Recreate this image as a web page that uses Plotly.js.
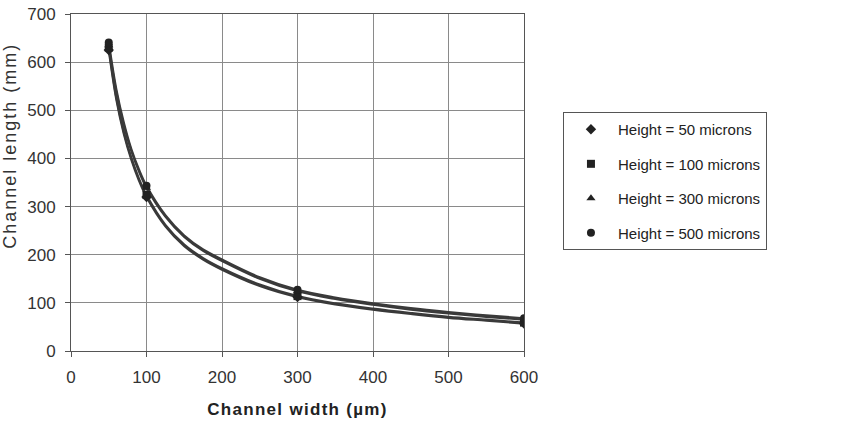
<!DOCTYPE html>
<html>
<head>
<meta charset="utf-8">
<script src="https://cdn.plot.ly/plotly-3.0.1.min.js"></script>
<style>html,body{margin:0;padding:0;background:#fff;}#chart{width:850px;height:428px;}</style>
</head>
<body>
<div id="chart"></div>
<script>
// Channel width (µm)
var widths = [50, 60, 70, 80, 90, 100, 125, 150, 175, 200, 250, 300, 350, 400, 450, 500, 550, 600];
// Channel length (mm) for each channel height
var h50  = [625, 523, 451, 397, 354, 320, 259, 218, 190, 169, 135, 112, 97, 86, 77, 69, 63, 57];
var h100 = [630, 527, 455, 401, 358, 324, 262, 221, 193, 172, 138, 114, 99, 88, 79, 71, 65, 59];
var h300 = [635, 538, 469, 415, 373, 339, 279, 237, 208, 187, 150, 124, 108, 96, 86, 78, 71, 65];
var h500 = [641, 544, 474, 419, 377, 343, 282, 240, 211, 190, 153, 127, 111, 99, 89, 81, 74, 68];
var seriesNames = ["Height = 50 microns", "Height = 100 microns", "Height = 300 microns", "Height = 500 microns"];
var markerWidths = [50, 100, 300, 600];
var xTicks = [0, 100, 200, 300, 400, 500, 600];
var yTicks = [0, 100, 200, 300, 400, 500, 600, 700];

var allSeries = [h50, h100, h300, h500];
var symbols = ["diamond", "square", "triangle-up", "circle"];
var traces = [];
allSeries.forEach(function (s, i) {
  traces.push({
    x: widths, y: s, type: "scatter", mode: "lines",
    line: {color: "#3a3a3a", width: 2.2, shape: "spline", smoothing: 1},
    showlegend: false, hoverinfo: "skip"
  });
});
allSeries.forEach(function (s, i) {
  var mx = [], my = [];
  widths.forEach(function (w, j) {
    if (markerWidths.indexOf(w) >= 0) { mx.push(w); my.push(s[j]); }
  });
  traces.push({
    x: mx, y: my, type: "scatter", mode: "markers", name: seriesNames[i],
    legendgroup: "g" + i,
    marker: {symbol: symbols[i], color: "#222", size: 8}
  });
});

var layout = {
  width: 850, height: 428,
  margin: {l: 71, r: 326, t: 14, b: 77},
  paper_bgcolor: "#fff", plot_bgcolor: "#fff",
  font: {family: "Liberation Sans, Arial, sans-serif", color: "#333"},
  xaxis: {
    range: [0, 600], tickvals: xTicks, ticktext: xTicks.map(String),
    showgrid: true, gridcolor: "#8a8a8a", gridwidth: 1,
    showline: true, linecolor: "#555", linewidth: 1, mirror: true,
    ticks: "outside", ticklen: 5, tickcolor: "#555",
    ticklabelstandoff: 6,
    tickfont: {size: 17, color: "#333"}, zeroline: false,
    title: {text: "<b><span style=\"letter-spacing:1.3px\">Channel width (µm)</span></b>", font: {size: 17, color: "#222"}, standoff: 16}
  },
  yaxis: {
    range: [0, 700], tickvals: yTicks, ticktext: yTicks.map(String),
    showgrid: true, gridcolor: "#8a8a8a", gridwidth: 1,
    showline: true, linecolor: "#555", linewidth: 1, mirror: true,
    ticks: "outside", ticklen: 5, tickcolor: "#555",
    ticklabelstandoff: 6,
    tickfont: {size: 17, color: "#333"}, zeroline: false
  },
  annotations: [{
    text: "<span style=\"letter-spacing:2px\">Channel length (mm)</span>", textangle: -90,
    xref: "paper", yref: "paper", x: -0.1355, y: 0.608,
    xanchor: "center", yanchor: "middle", showarrow: false,
    font: {size: 18, color: "#333"}
  }],
  legend: {
    x: 1.086, y: 0.709, xanchor: "left", yanchor: "top",
    bgcolor: "#fff", bordercolor: "#555", borderwidth: 1,
    font: {size: 15, color: "#222"},
    traceorder: "grouped", tracegroupgap: 12, itemwidth: 44
  },
  showlegend: true
};

Plotly.newPlot("chart", traces, layout, {staticPlot: true, displayModeBar: false});
</script>
</body>
</html>
